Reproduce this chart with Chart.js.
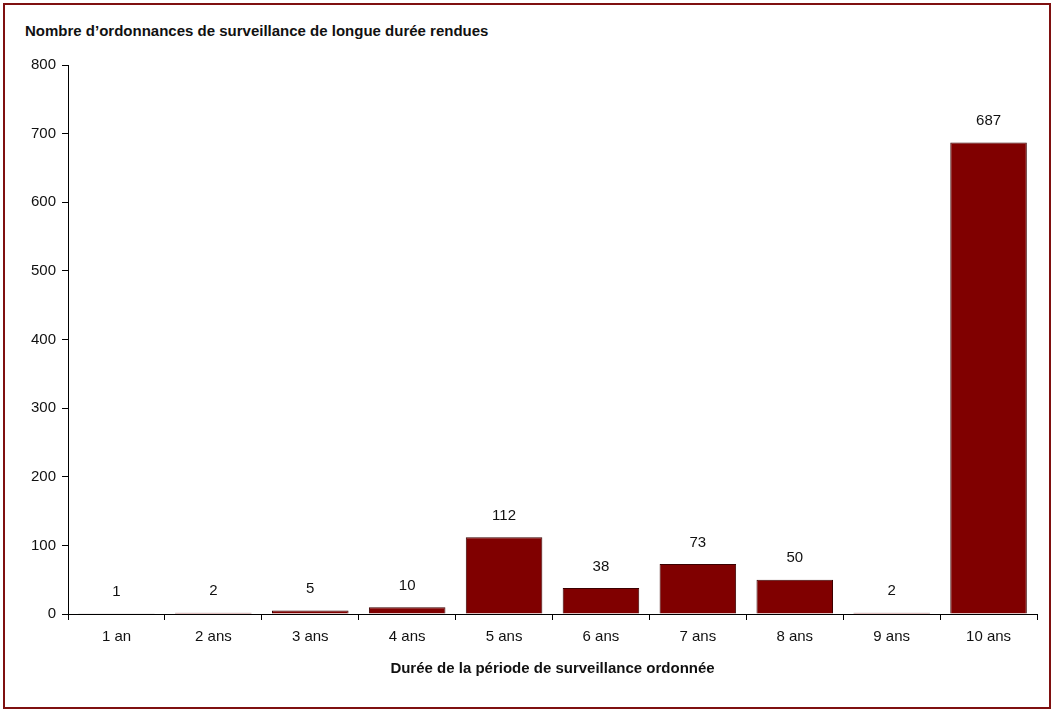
<!DOCTYPE html>
<html lang="fr">
<head>
<meta charset="UTF-8">
<script src="https://cdn.jsdelivr.net/npm/chart.js"></script>
<style>
  body { margin: 0; background: #fff; }
  #frame { position: absolute; left: 3px; top: 3px; width: 1044px; height: 702px; border: 2px solid #7f1010; }
  #title { position: absolute; left: 25px; top: 22px; font: bold 15px "Liberation Sans", Arial, sans-serif; color: #111; }
  #wrap { position: absolute; left: 5px; top: 50px; width: 1040px; height: 650px; }
</style>
</head>
<body>
<div id="frame"></div>
<div id="title">Nombre d’ordonnances de surveillance de longue durée rendues</div>
<div id="wrap"><canvas id="chart"></canvas></div>
<script>
// catégories et valeurs
const categories = ['1 an', '2 ans', '3 ans', '4 ans', '5 ans', '6 ans', '7 ans', '8 ans', '9 ans', '10 ans'];
const values = [1, 2, 5, 10, 112, 38, 73, 50, 2, 687];
const yTicks = [0, 100, 200, 300, 400, 500, 600, 700, 800];

const font = '"Liberation Sans", Arial, sans-serif';

// étiquettes au-dessus des barres
const labelPlugin = {
  id: 'labels',
  afterDatasetsDraw(chart) {
    const ctx = chart.ctx;
    const meta = chart.getDatasetMeta(0);
    ctx.save();
    ctx.font = '15px ' + font;
    ctx.fillStyle = '#111';
    ctx.textAlign = 'center';
    ctx.textBaseline = 'bottom';
    meta.data.forEach((bar, i) => {
      ctx.fillText(values[i], bar.x, bar.y - 14);
    });
    ctx.restore();
  }
};

new Chart(document.getElementById('chart'), {
  type: 'bar',
  data: {
    labels: categories,
    datasets: [{
      data: values,
      backgroundColor: '#800000',
      borderColor: '#3a0000',
      borderWidth: 1,
      barPercentage: 0.79,
      categoryPercentage: 1
    }]
  },
  options: {
    responsive: true,
    maintainAspectRatio: false,
    animation: false,
    layout: { padding: { left: 20, right: 8, top: 13, bottom: 18 } },
    plugins: { legend: { display: false }, tooltip: { enabled: false } },
    scales: {
      x: {
        grid: { offset: true, drawOnChartArea: false, drawTicks: true, tickLength: 6, color: '#000' },
        border: { color: '#000' },
        ticks: { color: '#111', font: { family: font, size: 15 }, padding: 8 },
        title: { display: true, text: 'Durée de la période de surveillance ordonnée', color: '#111',
                 font: { family: font, size: 15, weight: 'bold' }, padding: { top: 6 } }
      },
      y: {
        min: 0, max: 800,
        afterBuildTicks: axis => { axis.ticks = yTicks.map(v => ({ value: v })); },
        grid: { drawOnChartArea: false, drawTicks: true, tickLength: 6, color: '#000' },
        border: { color: '#000' },
        ticks: { color: '#111', font: { family: font, size: 15 }, padding: 6 }
      }
    }
  },
  plugins: [labelPlugin]
});
</script>
</body>
</html>
